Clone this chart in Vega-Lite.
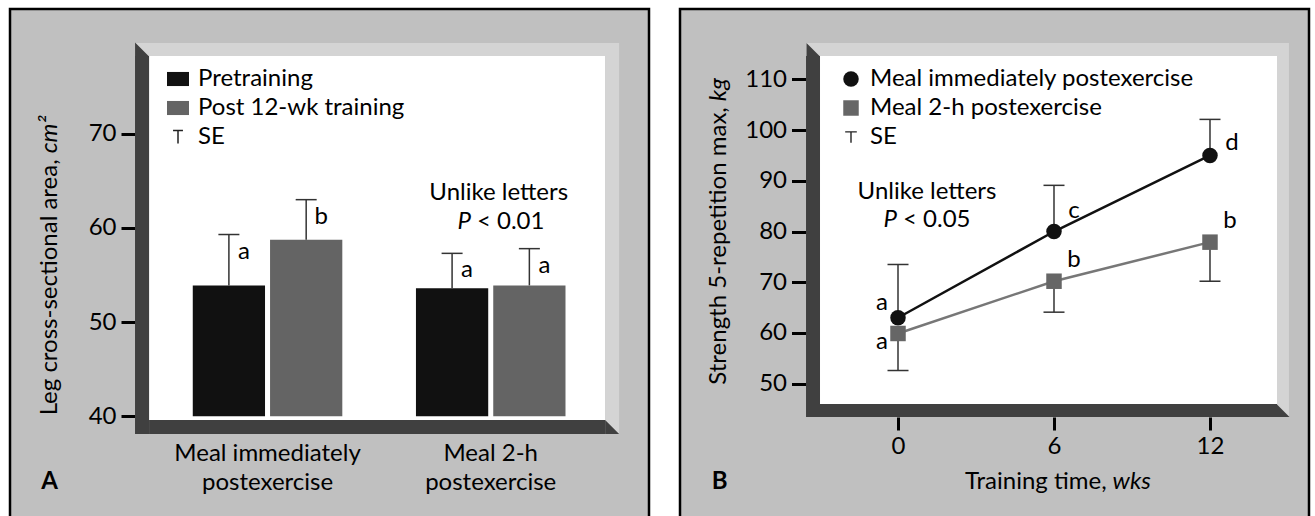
{
  "$schema": "https://vega.github.io/schema/vega-lite/v6.json",
  "background": "white",
  "padding": {"left": 8, "top": 7, "right": 7, "bottom": 0},
  "spacing": 27,
  "resolve": {"scale": {"color": "independent", "shape": "independent", "stroke": "independent"}, "legend": {"color": "independent", "shape": "independent", "stroke": "independent"}},
  "datasets": {
    "area": [
      {"meal": "Meal immediately postexercise", "period": "Pretraining", "area": 53.9, "upper": 59.3, "letter": "a"},
      {"meal": "Meal immediately postexercise", "period": "Post 12-wk training", "area": 58.75, "upper": 63.0, "letter": "b"},
      {"meal": "Meal 2-h postexercise", "period": "Pretraining", "area": 53.6, "upper": 57.3, "letter": "a"},
      {"meal": "Meal 2-h postexercise", "period": "Post 12-wk training", "area": 53.9, "upper": 57.8, "letter": "a"}
    ],
    "strength": [
      {"week": 0, "series": "Meal immediately postexercise", "strength": 63, "se_end": 73.5, "letter": "a"},
      {"week": 6, "series": "Meal immediately postexercise", "strength": 80, "se_end": 89.1, "letter": "c"},
      {"week": 12, "series": "Meal immediately postexercise", "strength": 95, "se_end": 102.1, "letter": "d"},
      {"week": 0, "series": "Meal 2-h postexercise", "strength": 59.9, "se_end": 52.6, "letter": "a"},
      {"week": 6, "series": "Meal 2-h postexercise", "strength": 70.2, "se_end": 64.1, "letter": "b"},
      {"week": 12, "series": "Meal 2-h postexercise", "strength": 77.9, "se_end": 70.2, "letter": "b"}
    ]
  },
  "hconcat": [
    {
      "width": 639,
      "height": 510,
      "resolve": {"scale": {"x": "independent"}},
      "layer": [
        {
          "data": {"values": [{}]},
          "layer": [
            {"mark": {"type": "rect", "color": "#ffffff"},
             "encoding": {
               "x": {"datum": -0.531, "type": "quantitative", "scale": {"domain": [-1.1541, 1.7088], "nice": false, "zero": false}, "axis": null},
               "x2": {"datum": 1.512},
               "y": {"datum": 39.61, "type": "quantitative", "title": null, "scale": {"domain": [29.1, 83.24], "nice": false, "zero": false}},
               "y2": {"datum": 78.25}}},
            {"mark": {"type": "rect", "color": "#d4d4d4"},
             "encoding": {
               "x": {"datum": -0.594, "type": "quantitative", "axis": null},
               "x2": {"datum": 1.575},
               "y": {"datum": 78.25, "type": "quantitative", "title": null},
               "y2": {"datum": 79.63}}},
            {"mark": {"type": "rect", "color": "#d4d4d4"},
             "encoding": {
               "x": {"datum": 1.512, "type": "quantitative", "axis": null},
               "x2": {"datum": 1.575},
               "y": {"datum": 38.12, "type": "quantitative", "title": null},
               "y2": {"datum": 78.25}}},
            {"mark": {"type": "rect", "color": "#404040"},
             "encoding": {
               "x": {"datum": -0.594, "type": "quantitative", "axis": null},
               "x2": {"datum": -0.531},
               "y": {"datum": 38.12, "type": "quantitative", "title": null},
               "y2": {"datum": 78.25}}},
            {"mark": {"type": "rect", "color": "#404040"},
             "encoding": {
               "x": {"datum": -0.531, "type": "quantitative", "axis": null},
               "x2": {"datum": 1.512},
               "y": {"datum": 38.12, "type": "quantitative", "title": null},
               "y2": {"datum": 39.61}}},
            {"mark": {"type": "point", "shape": "M-1,-1L1,1L-1,1Z", "size": 196, "filled": true, "opacity": 1, "color": "#404040", "strokeWidth": 0},
             "encoding": {
               "x": {"datum": -0.5625, "type": "quantitative", "axis": null},
               "y": {"datum": 78.94, "type": "quantitative", "title": null}}},
            {"mark": {"type": "point", "shape": "M-1,-1L1,1L-1,1Z", "size": 196, "filled": true, "opacity": 1, "color": "#404040", "strokeWidth": 0},
             "encoding": {
               "x": {"datum": 1.5435, "type": "quantitative", "axis": null},
               "y": {"datum": 38.865, "type": "quantitative", "title": null}}},
            {"mark": {"type": "text", "text": "A", "fontSize": 24, "fontWeight": "bold", "color": "#000000", "align": "center", "baseline": "middle"},
             "encoding": {
               "x": {"datum": -0.977, "type": "quantitative", "axis": null},
               "y": {"datum": 33.03, "type": "quantitative", "title": null}}},
            {"mark": {"type": "text", "text": "Leg cross-sectional area,", "fontSize": 24, "angle": 270, "color": "#000000", "align": "right", "baseline": "middle", "dx": -3},
             "encoding": {
               "x": {"datum": -0.976, "type": "quantitative", "axis": null},
               "y": {"datum": 67.6, "type": "quantitative", "title": null}}},
            {"mark": {"type": "text", "text": "cm²", "fontSize": 24, "fontStyle": "italic", "angle": 270, "color": "#000000", "align": "left", "baseline": "middle", "dx": 3},
             "encoding": {
               "x": {"datum": -0.976, "type": "quantitative", "axis": null},
               "y": {"datum": 67.6, "type": "quantitative", "title": null}}}
          ]
        },
        {
          "data": {"name": "area"},
          "layer": [
            {"mark": {"type": "bar"},
             "encoding": {
               "x": {"field": "meal", "type": "nominal", "title": null,
                     "scale": {"domain": ["Meal immediately postexercise", "Meal 2-h postexercise"], "paddingInner": 0.33, "paddingOuter": 0.5965, "align": 0.6864},
                     "axis": {"orient": "bottom", "offset": -85, "ticks": false, "domain": false, "labelAngle": 0, "labelPadding": 7, "labelFontSize": 24, "labelColor": "#000000", "labelLimit": 400, "labelLineHeight": 29, "labelBaseline": "top",
                              "labelExpr": "datum.value == 'Meal immediately postexercise' ? ['Meal immediately', 'postexercise'] : ['Meal 2-h', 'postexercise']"}},
               "xOffset": {"field": "period", "type": "nominal", "scale": {"domain": ["Pretraining", "Post 12-wk training"], "paddingInner": 0.065, "paddingOuter": 0}},
               "y": {"field": "area", "type": "quantitative", "title": null,
                     "scale": {"domain": [29.1, 83.24], "nice": false, "zero": false},
                     "axis": {"offset": -125, "values": [40, 50, 60, 70], "tickSize": 14, "tickWidth": 3, "tickColor": "#000000", "domain": false, "grid": false, "labelFontSize": 24, "labelColor": "#000000", "labelPadding": 5}},
               "y2": {"datum": 40},
               "color": {"field": "period", "type": "nominal",
                         "scale": {"domain": ["Pretraining", "Post 12-wk training", "SE"], "range": ["#111111", "#646464", "#333333"]},
                         "legend": {"title": null, "orient": "none", "legendX": 156, "legendY": 58, "symbolType": "M-1,-0.64H1V0.64H-1Z", "symbolSize": 484, "labelFontSize": 24, "labelColor": "#000000", "labelOffset": 8, "rowPadding": 5, "labelLimit": 400,
                                    "encode": {"symbols": {"update": {
                                      "shape": {"signal": "datum.value === 'SE' ? 'M-0.45,-0.6H0.45M0,-0.6V0.6' : 'M-1,-0.64H1V0.64H-1Z'"},
                                      "fill": {"signal": "datum.value === 'SE' ? 'transparent' : (datum.value === 'Pretraining' ? '#111111' : '#646464')"},
                                      "stroke": {"signal": "datum.value === 'SE' ? '#222222' : 'transparent'"},
                                      "strokeWidth": {"value": 1.5},
                                      "opacity": {"value": 1}}}}}}}},
            {"mark": {"type": "rule", "color": "#333333", "strokeWidth": 1.5},
             "encoding": {
               "x": {"field": "meal", "type": "nominal", "title": null},
               "xOffset": {"field": "period", "type": "nominal"},
               "y": {"field": "area", "type": "quantitative", "title": null},
               "y2": {"field": "upper"}}},
            {"mark": {"type": "tick", "orient": "horizontal", "color": "#333333", "size": 21, "thickness": 1.5, "opacity": 1},
             "encoding": {
               "x": {"field": "meal", "type": "nominal", "title": null},
               "xOffset": {"field": "period", "type": "nominal"},
               "y": {"field": "upper", "type": "quantitative", "title": null}}},
            {"mark": {"type": "text", "dx": 15, "dy": 17, "fontSize": 24, "color": "#000000", "align": "center", "baseline": "middle"},
             "encoding": {
               "x": {"field": "meal", "type": "nominal", "title": null},
               "xOffset": {"field": "period", "type": "nominal"},
               "y": {"field": "upper", "type": "quantitative", "title": null},
               "text": {"field": "letter"}}},
            {"data": {"values": [{}]},
             "mark": {"type": "text", "text": "Unlike letters", "dx": 8, "fontSize": 24, "color": "#000000", "align": "center", "baseline": "middle"},
             "encoding": {
               "x": {"datum": "Meal 2-h postexercise", "type": "nominal", "title": null},
               "y": {"datum": 63.7, "type": "quantitative", "title": null}}},
            {"data": {"values": [{}]},
             "mark": {"type": "text", "text": "P", "dx": -19.8, "fontSize": 24, "fontStyle": "italic", "color": "#000000", "align": "right", "baseline": "middle"},
             "encoding": {
               "x": {"datum": "Meal 2-h postexercise", "type": "nominal", "title": null},
               "y": {"datum": 60.63, "type": "quantitative", "title": null}}},
            {"data": {"values": [{}]},
             "mark": {"type": "text", "text": "< 0.01", "dx": -13.8, "fontSize": 24, "color": "#000000", "align": "left", "baseline": "middle"},
             "encoding": {
               "x": {"datum": "Meal 2-h postexercise", "type": "nominal", "title": null},
               "y": {"datum": 60.63, "type": "quantitative", "title": null}}}
          ]
        }
      ]
    },
    {
      "width": 629,
      "height": 510,
      "layer": [
        {
          "data": {"values": [{}]},
          "layer": [
            {"mark": {"type": "rect", "color": "#ffffff"},
             "encoding": {
               "x": {"datum": -3.0, "type": "quantitative", "title": null, "scale": {"domain": [-8.385, 15.808], "nice": false, "zero": false}},
               "x2": {"datum": 14.577},
               "y": {"datum": 46.0, "type": "quantitative", "title": null, "scale": {"domain": [23.33, 123.86], "nice": false, "zero": false}},
               "y2": {"datum": 114.6}}},
            {"mark": {"type": "rect", "color": "#d4d4d4"},
             "encoding": {
               "x": {"datum": -3.538, "type": "quantitative", "title": null},
               "x2": {"datum": 15.038},
               "y": {"datum": 114.6, "type": "quantitative", "title": null},
               "y2": {"datum": 117.16}}},
            {"mark": {"type": "rect", "color": "#d4d4d4"},
             "encoding": {
               "x": {"datum": 14.577, "type": "quantitative", "title": null},
               "x2": {"datum": 15.038},
               "y": {"datum": 43.44, "type": "quantitative", "title": null},
               "y2": {"datum": 114.6}}},
            {"mark": {"type": "rect", "color": "#404040"},
             "encoding": {
               "x": {"datum": -3.538, "type": "quantitative", "title": null},
               "x2": {"datum": -3.0},
               "y": {"datum": 43.44, "type": "quantitative", "title": null},
               "y2": {"datum": 114.6}}},
            {"mark": {"type": "rect", "color": "#404040"},
             "encoding": {
               "x": {"datum": -3.0, "type": "quantitative", "title": null},
               "x2": {"datum": 14.577},
               "y": {"datum": 43.44, "type": "quantitative", "title": null},
               "y2": {"datum": 46.0}}},
            {"mark": {"type": "point", "shape": "M-1,-1L1,1L-1,1Z", "size": 169, "filled": true, "opacity": 1, "color": "#404040", "strokeWidth": 0},
             "encoding": {
               "x": {"datum": -3.269, "type": "quantitative", "title": null},
               "y": {"datum": 115.88, "type": "quantitative", "title": null}}},
            {"mark": {"type": "point", "shape": "M-1,-1L1,1L-1,1Z", "size": 169, "filled": true, "opacity": 1, "color": "#404040", "strokeWidth": 0},
             "encoding": {
               "x": {"datum": 14.808, "type": "quantitative", "title": null},
               "y": {"datum": 44.72, "type": "quantitative", "title": null}}},
            {"mark": {"type": "text", "text": "B", "fontSize": 24, "fontWeight": "bold", "color": "#000000", "align": "center", "baseline": "middle"},
             "encoding": {
               "x": {"datum": -6.86, "type": "quantitative", "title": null},
               "y": {"datum": 30.62, "type": "quantitative", "title": null}}},
            {"mark": {"type": "text", "text": "Strength 5-repetition max,", "fontSize": 24, "angle": 270, "color": "#000000", "align": "right", "baseline": "middle", "dx": -3},
             "encoding": {
               "x": {"datum": -6.89, "type": "quantitative", "title": null},
               "y": {"datum": 105.1, "type": "quantitative", "title": null}}},
            {"mark": {"type": "text", "text": "kg", "fontSize": 24, "fontStyle": "italic", "angle": 270, "color": "#000000", "align": "left", "baseline": "middle", "dx": 3},
             "encoding": {
               "x": {"datum": -6.89, "type": "quantitative", "title": null},
               "y": {"datum": 105.1, "type": "quantitative", "title": null}}},
            {"mark": {"type": "text", "text": "Training time,", "fontSize": 24, "color": "#000000", "align": "right", "baseline": "middle", "dx": -2},
             "encoding": {
               "x": {"datum": 8.1, "type": "quantitative", "title": null},
               "y": {"datum": 30.62, "type": "quantitative", "title": null}}},
            {"mark": {"type": "text", "text": "wks", "fontSize": 24, "fontStyle": "italic", "color": "#000000", "align": "left", "baseline": "middle", "dx": 4},
             "encoding": {
               "x": {"datum": 8.1, "type": "quantitative", "title": null},
               "y": {"datum": 30.62, "type": "quantitative", "title": null}}},
            {"mark": {"type": "text", "text": "Unlike letters", "fontSize": 24, "color": "#000000", "align": "center", "baseline": "middle"},
             "encoding": {
               "x": {"datum": 1.115, "type": "quantitative", "title": null},
               "y": {"datum": 87.8, "type": "quantitative", "title": null}}},
            {"mark": {"type": "text", "text": "P", "fontSize": 24, "fontStyle": "italic", "color": "#000000", "align": "right", "baseline": "middle", "dx": -30},
             "encoding": {
               "x": {"datum": 1.115, "type": "quantitative", "title": null},
               "y": {"datum": 82.3, "type": "quantitative", "title": null}}},
            {"mark": {"type": "text", "text": "< 0.05", "fontSize": 24, "color": "#000000", "align": "left", "baseline": "middle", "dx": -24},
             "encoding": {
               "x": {"datum": 1.115, "type": "quantitative", "title": null},
               "y": {"datum": 82.3, "type": "quantitative", "title": null}}}
          ]
        },
        {
          "data": {"name": "strength"},
          "layer": [
            {"mark": {"type": "rule", "color": "#333333", "strokeWidth": 1.5},
             "encoding": {
               "x": {"field": "week", "type": "quantitative", "title": null,
                     "scale": {"domain": [-8.385, 15.808], "nice": false, "zero": false},
                     "axis": {"offset": -102, "values": [0, 6, 12], "tickSize": 13, "tickWidth": 3, "tickColor": "#000000", "domain": false, "grid": false, "labelFontSize": 24, "labelColor": "#000000", "labelPadding": 4}},
               "y": {"field": "strength", "type": "quantitative", "title": null,
                     "scale": {"domain": [23.33, 123.86], "nice": false, "zero": false},
                     "axis": {"offset": -126, "values": [50, 60, 70, 80, 90, 100, 110], "tickSize": 14.5, "tickWidth": 3, "tickColor": "#000000", "domain": false, "grid": false, "labelFontSize": 24, "labelColor": "#000000", "labelPadding": 5}},
               "y2": {"field": "se_end"}}},
            {"mark": {"type": "tick", "orient": "horizontal", "color": "#333333", "size": 21, "thickness": 1.5, "opacity": 1},
             "encoding": {
               "x": {"field": "week", "type": "quantitative", "title": null},
               "y": {"field": "se_end", "type": "quantitative", "title": null}}},
            {"mark": {"type": "line", "strokeWidth": 2.5},
             "encoding": {
               "x": {"field": "week", "type": "quantitative", "title": null},
               "y": {"field": "strength", "type": "quantitative", "title": null},
               "stroke": {"field": "series", "type": "nominal", "scale": {"domain": ["Meal immediately postexercise", "Meal 2-h postexercise"], "range": ["#111111", "#777777"]}, "legend": null}}},
            {"mark": {"type": "point", "filled": true, "opacity": 1, "size": 240},
             "encoding": {
               "x": {"field": "week", "type": "quantitative", "title": null},
               "y": {"field": "strength", "type": "quantitative", "title": null},
               "color": {"field": "series", "type": "nominal", "scale": {"domain": ["Meal immediately postexercise", "Meal 2-h postexercise", "SE"], "range": ["#111111", "#666666", "#222222"]},
                         "legend": {"title": null, "orient": "none", "legendX": 159, "legendY": 58, "symbolSize": 240, "labelFontSize": 24, "labelColor": "#000000", "labelOffset": 7, "rowPadding": 5, "labelLimit": 400, "symbolOpacity": 1}},
               "shape": {"field": "series", "type": "nominal",
                         "scale": {"domain": ["Meal immediately postexercise", "Meal 2-h postexercise", "SE"], "range": ["circle", "square", "M-0.75,-0.75H0.75V-0.58H0.09V0.75H-0.09V-0.58H-0.75Z"]},
                         "legend": {"title": null, "orient": "none", "legendX": 159, "legendY": 58, "symbolSize": 240, "labelFontSize": 24, "labelColor": "#000000", "labelOffset": 7, "rowPadding": 5, "labelLimit": 400, "symbolOpacity": 1}}}},
            {"transform": [{"filter": "datum.week > 0 && !(datum.week == 12 && datum.series == 'Meal immediately postexercise')"}],
             "mark": {"type": "text", "dx": 20, "dy": -21, "fontSize": 24, "color": "#000000", "align": "center", "baseline": "middle"},
             "encoding": {
               "x": {"field": "week", "type": "quantitative", "title": null},
               "y": {"field": "strength", "type": "quantitative", "title": null},
               "text": {"field": "letter"}}},
            {"transform": [{"filter": "datum.week == 12 && datum.series == 'Meal immediately postexercise'"}],
             "mark": {"type": "text", "dx": 22, "dy": -12, "fontSize": 24, "color": "#000000", "align": "center", "baseline": "middle"},
             "encoding": {
               "x": {"field": "week", "type": "quantitative", "title": null},
               "y": {"field": "strength", "type": "quantitative", "title": null},
               "text": {"field": "letter"}}},
            {"transform": [{"filter": "datum.week == 0 && datum.series == 'Meal immediately postexercise'"}],
             "mark": {"type": "text", "dx": -16, "dy": -15, "fontSize": 24, "color": "#000000", "align": "center", "baseline": "middle"},
             "encoding": {
               "x": {"field": "week", "type": "quantitative", "title": null},
               "y": {"field": "strength", "type": "quantitative", "title": null},
               "text": {"field": "letter"}}},
            {"transform": [{"filter": "datum.week == 0 && datum.series == 'Meal 2-h postexercise'"}],
             "mark": {"type": "text", "dx": -16, "dy": 9, "fontSize": 24, "color": "#000000", "align": "center", "baseline": "middle"},
             "encoding": {
               "x": {"field": "week", "type": "quantitative", "title": null},
               "y": {"field": "strength", "type": "quantitative", "title": null},
               "text": {"field": "letter"}}}
          ]
        }
      ]
    }
  ],
  "config": {
    "font": "Lato",
    "view": {"stroke": "#000000", "strokeWidth": 2.5, "fill": "#c0c0c0"},
    "text": {"font": "Lato"},
    "axis": {"labelFont": "Lato", "labelFontSize": 24, "labelColor": "#000000", "grid": false},
    "legend": {"labelFont": "Lato", "labelFontSize": 24, "labelColor": "#000000", "labelLimit": 400}
  }
}
